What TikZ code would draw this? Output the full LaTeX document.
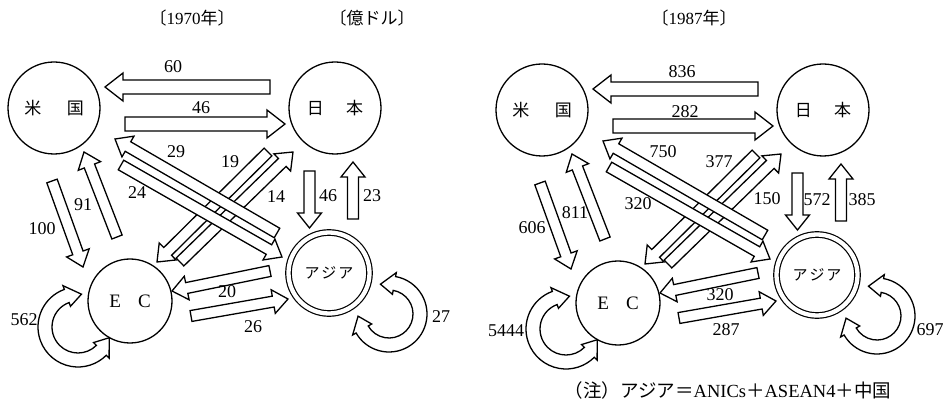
\documentclass[tikz,border=0pt]{standalone}
\usepackage{fontspec}
\setmainfont{Liberation Serif}
\newfontfamily\jpfont{Noto Sans CJK JP}
\usetikzlibrary{calc}

% sizes of the straight block arrows
\newcommand{\shaftw}{5.5}
\newcommand{\headw}{12}
\newcommand{\headl}{15}
% sizes of the bent arrows
\newcommand{\bandw}{7}
\newcommand{\bendh}{11}
\newcommand{\benda}{26}

\newcommand{\barrow}[3][]{%
  \draw[blockarrow, #1] let \p1=(#2), \p2=(#3),
      \n1={atan2(\y2-\y1,\x2-\x1)}, \n2={veclen(\x2-\x1,\y2-\y1)} in
    [shift={(\p1)}, rotate=\n1]
    (0,-\shaftw) -- ({\n2-\headl},-\shaftw) -- ({\n2-\headl},-\headw) -- (\n2,0)
    -- ({\n2-\headl},\headw) -- ({\n2-\headl},\shaftw) -- (0,\shaftw) -- cycle;
}

\newcommand{\bendarrow}[4]{%
  \draw[blockarrow, shift={(#1)}]
    ({#2}:{#4+\bandw}) arc[start angle=#2, end angle=#3, radius=#4+\bandw]
    -- ({#3}:{#4+\bendh}) -- ({#3+\benda}:{#4}) -- ({#3}:{#4-\bendh}) -- ({#3}:{#4-\bandw})
    arc[start angle=#3, end angle=#2, radius=#4-\bandw]
    -- ({#2}:{#4-\bendh}) -- ({#2-\benda}:{#4}) -- ({#2}:{#4+\bendh}) -- cycle;
}

\begin{document}
\begin{tikzpicture}[x=1pt, y=1pt, node distance=281pt,
  country/.style={circle, draw, line width=1.3pt, minimum size=92pt, inner sep=0pt, font=\jpfont\fontsize{17}{17}\selectfont},
  region/.style={circle, draw, line width=1.3pt, minimum size=84pt, inner sep=0pt, font=\fontsize{19}{19}\selectfont},
  asia/.style={circle, draw, double, line width=1.2pt, double distance=4.3pt, minimum size=81pt, inner sep=0pt, font=\jpfont\fontsize{15}{15}\selectfont},
  blockarrow/.style={draw, fill=white, line width=1.3pt, line join=miter},
  wide/.code={\def\shaftw{7}\def\headw{14}\def\headl{18}},
  num/.style={inner sep=0pt, font=\fontsize{18}{18}\selectfont},
  title/.style={inner sep=0pt, font=\fontsize{17}{17}\selectfont}]

\useasboundingbox (0,0) rectangle (946,-406);

\node[title] (t70) at (192,-18) {{\jpfont〔}1970{\jpfont 年〕}};
\node[title] (tunit) at (372,-18) {\jpfont〔億ドル〕};
\node[title] (t87) at (694,-18) {{\jpfont〔}1987{\jpfont 年〕}};

\foreach \sx/\sy/\pfx in {0/0/a, 488/-2/b} {
\begin{scope}[shift={(\sx,\sy)}]
\node (\pfx-us) [country] at (54,-108) {米\hspace{1.5em}国};
\node (\pfx-jp) [country, right of=\pfx-us] {日\hspace{1.3em}本};
\node (\pfx-ec) [region] at (130,-301) {E\hspace{0.9em}C};
\node (\pfx-as) [asia] at (329,-273) {ア\hspace{2pt}ジ\hspace{2pt}ア};

% Japan - US
\barrow[wide]{$(\pfx-jp)+(-65,21)$}{$(\pfx-us)+(51,21)$}
\barrow[wide]{$(\pfx-us)+(71,-16)$}{$(\pfx-jp)+(-50,-16)$}
% Japan - EC, under the US - Asia pair
\barrow{$(\pfx-jp)+(-67,-44)$}{$(\pfx-ec)+(27,39)$}
\barrow{$(\pfx-ec)+(50,39)$}{$(\pfx-jp)+(-42,-44)$}
% US - Asia
\barrow{$(\pfx-as)+(-52,40)$}{$(\pfx-us)+(61,-31)$}
\barrow{$(\pfx-us)+(67,-57)$}{$(\pfx-as)+(-47,16)$}
% Japan - Asia
\barrow{$(\pfx-jp)+(-25.5,-63)$}{$(\pfx-as)+(-19.5,45)$}
\barrow{$(\pfx-as)+(24,54)$}{$(\pfx-jp)+(18,-54)$}
% EC - Asia
\barrow{$(\pfx-as)+(-59,2)$}{$(\pfx-ec)+(42,10)$}
\barrow{$(\pfx-ec)+(61,-15)$}{$(\pfx-as)+(-41,-26)$}
% US - EC
\barrow{$(\pfx-us)+(-2,-73)$}{$(\pfx-ec)+(-47,34)$}
\barrow{$(\pfx-ec)+(-13,64)$}{$(\pfx-us)+(30,-44)$}
% trade inside EC and inside Asia
\bendarrow{$(\pfx-ec)+(-52,-26)$}{110}{315}{33}
\bendarrow{$(\pfx-as)+(60,-41)$}{-150}{80}{31}
\end{scope}
}

% 1970
\node[num] (a-jpus) at (173,-67) {60};
\node[num] (a-usjp) at (201,-108) {46};
\node[num] (a-asus) at (176,-152) {29};
\node[num] (a-usas) at (137,-193) {24};
\node[num] (a-jpec) at (230,-162) {19};
\node[num] (a-ecjp) at (276,-197) {14};
\node[num] (a-jpas) at (328,-196) {46};
\node[num] (a-asjp) at (372,-196) {23};
\node[num] (a-usec) at (42,-229) {100};
\node[num] (a-ecus) at (83,-205) {91};
\node[num] (a-asec) at (227,-292) {20};
\node[num] (a-ecas) at (253,-327) {26};
\node[num] (a-ecec) at (24,-320) {562};
\node[num] (a-asas) at (441,-317) {27};

% 1987
\node[num] (b-jpus) at (682,-72) {836};
\node[num] (b-usjp) at (685,-112) {282};
\node[num] (b-asus) at (663,-152) {750};
\node[num] (b-usas) at (638,-204) {320};
\node[num] (b-jpec) at (719,-162) {377};
\node[num] (b-ecjp) at (767,-199) {150};
\node[num] (b-jpas) at (817,-200) {572};
\node[num] (b-asjp) at (862,-200) {385};
\node[num] (b-usec) at (532,-228) {606};
\node[num] (b-ecus) at (575,-213) {811};
\node[num] (b-asec) at (720,-295) {320};
\node[num] (b-ecas) at (726,-330) {287};
\node[num] (b-ecec) at (506,-331) {5444};
\node[num] (b-asas) at (930,-330) {697};

\node[inner sep=0pt, font=\fontsize{18.5}{18.5}\selectfont] (note) at (728,-390)
  {{\jpfont（注）アジア＝}ANICs{\jpfont＋}ASEAN4{\jpfont＋中国}};
\end{tikzpicture}
\end{document}
